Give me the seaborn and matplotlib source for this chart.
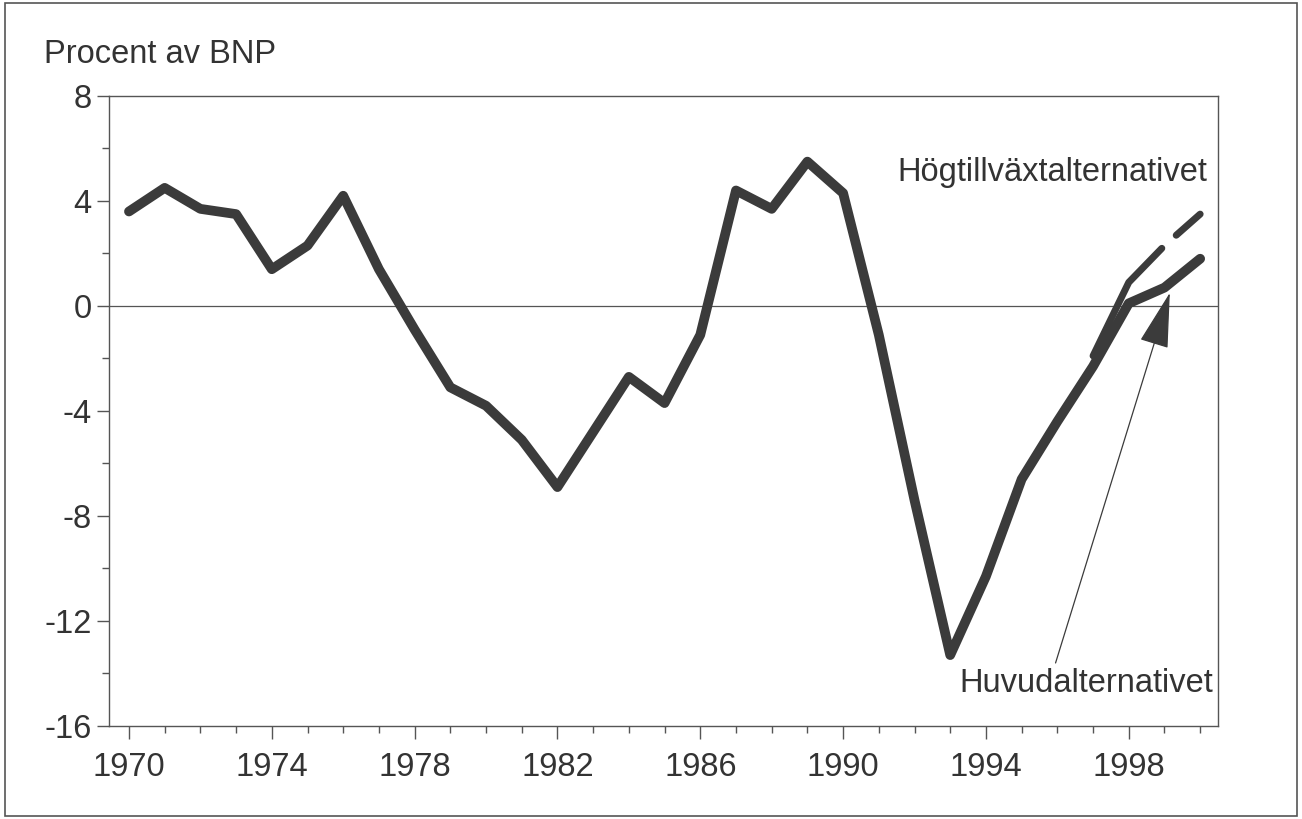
import numpy as np
import pandas as pd
import matplotlib.pyplot as plt
import seaborn as sns
from matplotlib.patches import Rectangle

years = list(range(1970, 2001))
main_values = [3.6, 4.5, 3.7, 3.5, 1.4, 2.3, 4.2, 1.4, -0.9, -3.1,
               -3.8, -5.1, -6.9, -4.8, -2.7, -3.7, -1.1, 4.4, 3.7, 5.5,
               4.3, -1.1, -7.4, -13.3, -10.3, -6.6, -4.4, -2.3, 0.1, 0.7,
               1.8]
high_years = [1997, 1998, 1999, 2000]
high_values = [-1.9, 0.9, 2.3, 3.5]
ytick_labels = ['-16', '-12', '-8', '-4', '0', '4', '8']

main = pd.DataFrame({'year': years, 'value': main_values})
high = pd.DataFrame({'year': high_years, 'value': high_values})

sns.set_style('ticks')
plt.rcParams['font.family'] = ['Liberation Sans', 'DejaVu Sans']

fig = plt.figure(figsize=(13.02, 8.19), dpi=100)
ax = fig.add_axes([0.0837, 0.1136, 0.8518, 0.7692])

col = '#3b3b3b'
txt = '#333333'
ax.axhline(0, color='#555555', lw=0.9, zorder=1)
sns.lineplot(data=high, x='year', y='value', ax=ax, color=col, lw=5,
             dashes=False, zorder=2)
hl = ax.lines[-1]
hl.set_dashes([18.6, 2.8, 5, 30])
hl.set_solid_capstyle('round')
hl.set_dash_capstyle('round')
sns.lineplot(data=main, x='year', y='value', ax=ax, color=col, lw=7, zorder=3)
ax.lines[-1].set_solid_capstyle('round')
ax.lines[-1].set_solid_joinstyle('round')

ax.set_xlim(1969.44, 2000.5)
ax.set_ylim(-16, 8)
ax.set_xticks(range(1970, 2001, 4))
ax.set_xticks(range(1970, 2001), minor=True)
ax.set_yticks(range(-16, 9, 4))
ax.set_yticklabels(ytick_labels)
ax.set_yticks(range(-16, 9, 2), minor=True)
ax.tick_params(axis='both', which='major', labelsize=23.5, length=9,
               width=1, color='#555555', labelcolor=txt)
ax.tick_params(axis='both', which='minor', length=5, width=1, color='#555555')
ax.tick_params(axis='x', pad=10)
ax.set_xlabel('')
ax.set_ylabel('')
for s in ax.spines.values():
    s.set_color('#555555')
    s.set_linewidth(1)

ax.text(2000.2, 5.1, 'Högtillväxtalternativet', ha='right', va='center',
        fontsize=23.5, color=txt)
ax.text(2000.35, -14.4, 'Huvudalternativet', ha='right', va='center',
        fontsize=23.5, color=txt)
ax.annotate('', xy=(1999.15, 0.5), xytext=(1995.95, -13.6),
            arrowprops=dict(arrowstyle='-|>,head_length=3.6,head_width=0.95',
                            mutation_scale=10, color=col, lw=0.9,
                            shrinkA=0, shrinkB=0))

fig.text(0.034, 0.933, 'Procent av BNP', fontsize=23.5, color=txt,
         va='center', ha='left')
fig.patches.append(Rectangle((0.004, 0.004), 0.992, 0.992, transform=fig.transFigure,
                             fill=False, ec='#555555', lw=1.2))

fig.savefig('out.png', dpi=100)
